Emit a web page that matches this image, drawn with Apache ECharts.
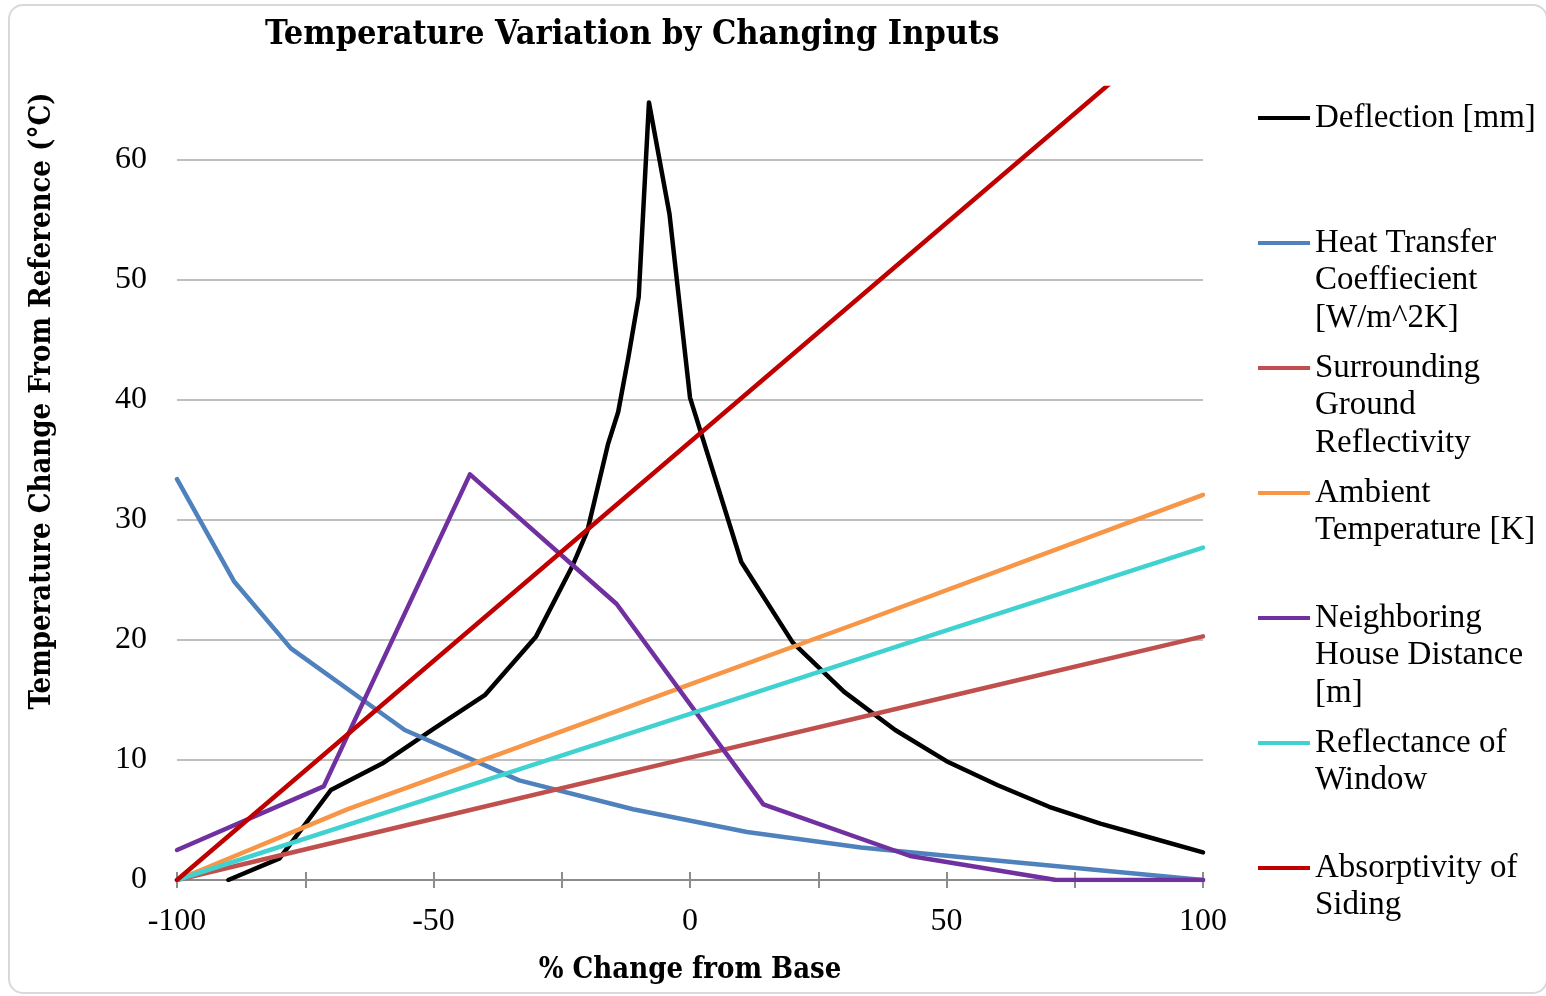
<!DOCTYPE html>
<html>
<head>
<meta charset="utf-8">
<title>Temperature Variation by Changing Inputs</title>
<script src="https://cdn.jsdelivr.net/npm/echarts@6/dist/echarts.min.js"></script>
<style>
  html, body { margin: 0; padding: 0; background: #ffffff; }
  #chart { width: 1546px; height: 996px; }
</style>
</head>
<body>
<div id="chart"></div>
<script>
// Sensitivity of temperature change to each input (% change from base)
const deflectionX = [-90, -80, -70, -60, -50, -40, -30, -23, -20, -16, -14, -12, -10, -8, -4, 0, 10, 20, 30, 40, 50, 60, 70, 80, 90, 100];
const deflectionY = [0, 1.8, 7.5, 9.7, 12.6, 15.4, 20.3, 26.1, 29.1, 36.3, 39.0, 43.6, 48.6, 64.8, 55.5, 40.2, 26.5, 19.8, 15.7, 12.5, 9.9, 7.9, 6.1, 4.7, 3.5, 2.3];

const heatTransferX = [-100, -88.9, -77.8, -55.6, -33.3, -11.1, 11.1, 33.3, 55.6, 77.8, 100];
const heatTransferY = [33.4, 24.9, 19.3, 12.5, 8.3, 5.9, 4.0, 2.7, 1.8, 0.9, 0];

const groundReflX = [-100, -50, 0, 50, 100];
const groundReflY = [0, 5.1, 10.2, 15.25, 20.3];

const ambientX = [-100, -66.7, -33.3, 0, 33.3, 66.7, 100];
const ambientY = [0, 5.9, 11.1, 16.3, 21.5, 26.8, 32.1];

const neighborX = [-100, -71.4, -42.9, -14.3, 14.3, 42.9, 71.4, 100];
const neighborY = [2.5, 7.8, 33.8, 23.0, 6.3, 2.0, 0, 0];

const windowReflX = [-100, -50, 0, 50, 100];
const windowReflY = [0, 6.9, 13.85, 20.8, 27.7];

const sidingAbsX = [-100, -50, 0, 50, 100];
const sidingAbsY = [0, 18.25, 36.5, 54.75, 73.0];

const seriesNames = [
  'Deflection [mm]',
  'Heat Transfer Coeffiecient [W/m^2K]',
  'Surrounding Ground Reflectivity',
  'Ambient Temperature [K]',
  'Neighboring House Distance [m]',
  'Reflectance of Window',
  'Absorptivity of Siding'
];
// legend text as wrapped on the right-hand side
const legendLines = [
  ['Deflection [mm]'],
  ['Heat Transfer', 'Coeffiecient', '[W/m^2K]'],
  ['Surrounding', 'Ground', 'Reflectivity'],
  ['Ambient', 'Temperature [K]'],
  ['Neighboring', 'House Distance', '[m]'],
  ['Reflectance of', 'Window'],
  ['Absorptivity of', 'Siding']
];
const seriesColors = ['#000000', '#4f81bd', '#c0504d', '#f79646', '#7030a0', '#40d2d0', '#c00000'];

const xTickLabels = [-100, -50, 0, 50, 100];

const seriesXY = [
  [deflectionX, deflectionY],
  [heatTransferX, heatTransferY],
  [groundReflX, groundReflY],
  [ambientX, ambientY],
  [neighborX, neighborY],
  [windowReflX, windowReflY],
  [sidingAbsX, sidingAbsY]
];

const SERIF = "'Liberation Serif', 'DejaVu Serif', serif";
const SERIF_BOLD_NARROW = "'DejaVu Serif Condensed', 'Liberation Serif', serif";

const chart = echarts.init(document.getElementById('chart'), null, { renderer: 'canvas' });

const series = seriesXY.map(([xs, ys], i) => ({
  name: seriesNames[i],
  type: 'line',
  data: xs.map((x, j) => [x, ys[j]]),
  showSymbol: false,
  symbol: 'none',
  smooth: false,
  clip: true,
  lineStyle: { color: seriesColors[i], width: 4.5, cap: 'round', join: 'round' },
  itemStyle: { color: seriesColors[i] },
  z: 2 + i
}));

// one legend block per series, icon aligned with the first text line
const LEGEND_LINE_H = 37.5;
const legendFirstRowY = 118;
const legendStep = 125;
const legends = legendLines.map((lines, i) => {
  const n = lines.length;
  const total = 2 * n - 1;
  const text = '\n'.repeat(n - 1) + lines.join('\n');
  return {
    show: true,
    data: [seriesNames[i]],
    left: 1258,
    top: legendFirstRowY + i * legendStep - (total * LEGEND_LINE_H) / 2,
    orient: 'vertical',
    padding: 0,
    icon: 'rect',
    itemWidth: 52,
    itemHeight: 4,
    itemGap: 0,
    selectedMode: false,
    formatter: () => text,
    textStyle: {
      fontFamily: SERIF,
      fontSize: 33,
      color: '#000000',
      lineHeight: LEGEND_LINE_H,
      padding: [0, 0, 0, 0]
    }
  };
});

const option = {
  backgroundColor: '#ffffff',
  animation: false,
  title: {
    text: 'Temperature Variation by Changing Inputs',
    left: 265,
    top: 18,
    padding: 0,
    textStyle: {
      fontFamily: SERIF_BOLD_NARROW,
      fontWeight: 'bold',
      fontSize: 34,
      color: '#000000'
    }
  },
  legend: legends,
  grid: { left: 177, right: 343, top: 88, bottom: 116, containLabel: false, outerBoundsMode: 'none' },
  xAxis: [
    {
      type: 'value',
      min: -100,
      max: 100,
      interval: 25,
      name: '% Change from Base',
      nameLocation: 'middle',
      nameGap: 76,
      nameTextStyle: {
        fontFamily: SERIF_BOLD_NARROW,
        fontWeight: 'bold',
        fontSize: 29,
        color: '#000000'
      },
      axisLine: { show: true, onZero: false, lineStyle: { color: '#8c8c8c', width: 2 } },
      axisTick: { show: true, length: 8, lineStyle: { color: '#8c8c8c', width: 2 } },
      axisLabel: {
        margin: 26,
        fontFamily: SERIF,
        fontSize: 32,
        color: '#000000',
        formatter: v => (xTickLabels.indexOf(v) >= 0 ? String(v) : '')
      },
      splitLine: { show: false }
    },
    {
      // inner half of the crossing tick marks
      type: 'value',
      min: -100,
      max: 100,
      interval: 25,
      position: 'bottom',
      axisLine: { show: false },
      axisTick: { show: true, inside: true, length: 8, lineStyle: { color: '#8c8c8c', width: 2 } },
      axisLabel: { show: false },
      splitLine: { show: false }
    }
  ],
  yAxis: {
    type: 'value',
    min: 0,
    max: 66,
    interval: 10,
    axisLine: { show: false },
    axisTick: { show: false },
    axisLabel: {
      margin: 30,
      fontFamily: SERIF,
      fontSize: 32,
      color: '#000000',
      showMaxLabel: false
    },
    splitLine: { show: true, showMaxLine: false, lineStyle: { color: '#bfbfbf', width: 2 } }
  },
  graphic: [
    {
      type: 'rect',
      silent: true,
      z: -10,
      shape: { x: 9, y: 5, width: 1538, height: 988, r: 14 },
      style: { fill: 'none', stroke: '#d9d9d9', lineWidth: 2 }
    },
    {
      type: 'text',
      silent: true,
      x: 42,
      y: 401,
      rotation: Math.PI / 2,
      style: {
        text: 'Temperature Change From Reference (°C)',
        fontFamily: SERIF_BOLD_NARROW,
        fontWeight: 'bold',
        fontSize: 29,
        fill: '#000000',
        align: 'center',
        verticalAlign: 'middle'
      }
    }
  ],
  series: series
};

chart.setOption(option);
</script>
</body>
</html>
